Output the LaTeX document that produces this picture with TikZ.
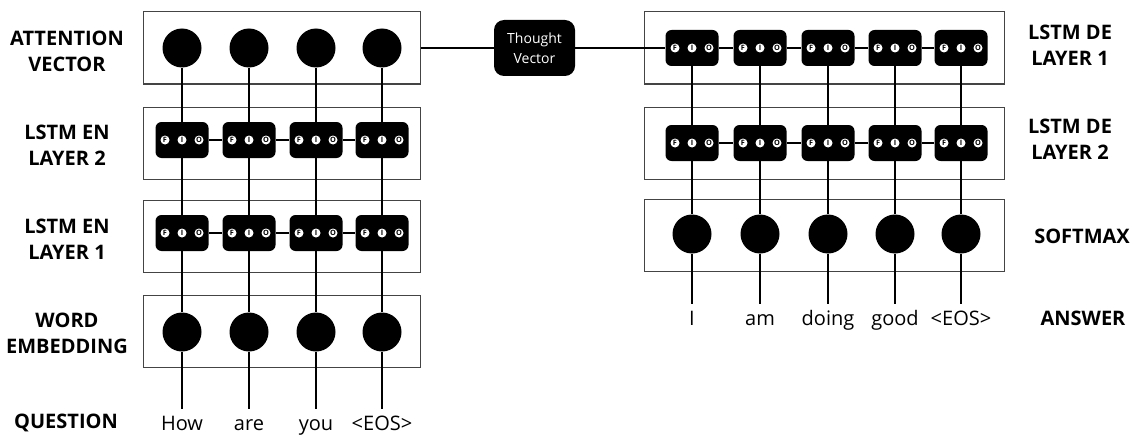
\documentclass[tikz,border=0pt]{standalone}
\usepackage{fontspec}
\setmainfont{Open Sans}
\begin{document}
\begin{tikzpicture}[x=0.75pt,y=0.75pt,yscale=-1,xscale=1,
  layerbox/.style={draw={rgb, 255:red, 68; green, 68; blue, 68 },line width=0.75pt,minimum height=54pt,inner sep=0pt},
  leftbox/.style={layerbox,minimum width=207.75pt},
  rightbox/.style={layerbox,minimum width=270pt},
  unit/.style={circle,fill=black,minimum size=29.25pt,inner sep=0pt},
  cell/.style={fill=black,rounded corners=4.5pt,minimum width=39.75pt,minimum height=27pt,inner sep=0pt},
  gate/.style={circle,fill=white,minimum size=6.75pt,inner sep=0pt,font=\fontsize{5.5}{5.5}\selectfont\bfseries},
  tag/.style={align=center,inner sep=1pt,font=\fontsize{15}{19.5}\selectfont\bfseries},
  word/.style={anchor=north,inner xsep=0pt,inner ysep=6pt,text height=10pt,text depth=3pt,font=\fontsize{15}{18}\selectfont},
  wire/.style={line width=1.5pt}]
\useasboundingbox (0,0) rectangle (1134,435);

%Shape: Rectangle (encoder side)
\node[leftbox] (attbox) at (281.5,48) {};
\node[leftbox] (en2box) at (281.5,143.5) {};
\node[leftbox] (en1box) at (281.5,236.5) {};
\node[leftbox] (embbox) at (281.5,331.5) {};
%Shape: Rectangle (decoder side)
\node[rightbox] (de1box) at (824,48) {};
\node[rightbox] (de2box) at (824,143) {};
\node[rightbox] (softbox) at (824,235.5) {};

% Text Node
\node[tag] at (67,51) {ATTENTION\\VECTOR};
\node[tag] at (67,145) {LSTM EN\\LAYER 2};
\node[tag] at (67,239) {LSTM EN\\LAYER 1};
\node[tag] at (67,333) {WORD\\EMBEDDING};
\node[tag] at (66,423) {QUESTION};
\node[tag] at (1070,45) {LSTM DE\\LAYER 1};
\node[tag] at (1070,139) {LSTM DE\\LAYER 2};
\node[tag] at (1082,236) {SOFTMAX};
\node[tag] at (1083,318) {ANSWER};

%Shape: Circle (attention)
\node[unit] (ea1) at (182,48) {};
\node[unit] (ea2) at (249,48) {};
\node[unit] (ea3) at (316,48) {};
\node[unit] (ea4) at (382,48) {};
%Shape: Rounded Rect (lstm en layer 2)
\node[cell] (eb1) at (182,140) {};
\node[cell] (eb2) at (249,140) {};
\node[cell] (eb3) at (316,140) {};
\node[cell] (eb4) at (382,140) {};
%Shape: Rounded Rect (lstm en layer 1)
\node[cell] (ec1) at (182,233) {};
\node[cell] (ec2) at (249,233) {};
\node[cell] (ec3) at (316,233) {};
\node[cell] (ec4) at (382,233) {};
%Shape: Circle (embedding)
\node[unit] (ed1) at (182,332) {};
\node[unit] (ed2) at (249,332) {};
\node[unit] (ed3) at (316,332) {};
\node[unit] (ed4) at (382,332) {};
% Text Node (question)
\node[word] (q1) at (182,409) {How};
\node[word] (q2) at (249,409) {are};
\node[word] (q3) at (316,409) {you};
\node[word] (q4) at (382,409) {<EOS>};

%Shape: Rounded Rect (lstm de layer 1)
\node[cell] (da1) at (692,48) {};
\node[cell] (da2) at (760,48) {};
\node[cell] (da3) at (828,48) {};
\node[cell] (da4) at (895,48) {};
\node[cell] (da5) at (961,48) {};
%Shape: Rounded Rect (lstm de layer 2)
\node[cell] (db1) at (692,143) {};
\node[cell] (db2) at (760,143) {};
\node[cell] (db3) at (828,143) {};
\node[cell] (db4) at (895,143) {};
\node[cell] (db5) at (961,143) {};
%Shape: Circle (softmax)
\node[unit] (dc1) at (692,234) {};
\node[unit] (dc2) at (760,234) {};
\node[unit] (dc3) at (828,234) {};
\node[unit] (dc4) at (895,234) {};
\node[unit] (dc5) at (961,234) {};
% Text Node (answer)
\node[word] (r1) at (692,304) {I};
\node[word] (r2) at (760,304) {am};
\node[word] (r3) at (828,304) {doing};
\node[word] (r4) at (895,304) {good};
\node[word] (r5) at (961,304) {<EOS>};

%Shape: Rounded Rect (thought vector)
\node[fill=black,rounded corners=7.5pt,minimum width=60.75pt,minimum height=42pt,text=white,align=center,font=\fontsize{10.5}{15}\selectfont] (tv) at (534.5,48) {Thought\\Vector};

%Straight Lines
\draw[wire] (attbox) -- (tv) -- (da1) -- (da2) -- (da3) -- (da4) -- (da5);
\draw[wire] (eb1) -- (eb2) -- (eb3) -- (eb4);
\draw[wire] (ec1) -- (ec2) -- (ec3) -- (ec4);
\draw[wire] (db1) -- (db2) -- (db3) -- (db4) -- (db5);
\foreach \i in {1,...,4}
  \draw[wire] (ea\i) -- (eb\i) -- (ec\i) -- (ed\i) -- (q\i);
\foreach \i in {1,...,5}
  \draw[wire] (da\i) -- (db\i) -- (dc\i) -- (r\i);

%Shape: Circle (gates)
\foreach \c in {eb1,eb2,eb3,eb4,ec1,ec2,ec3,ec4,da1,da2,da3,da4,da5,db1,db2,db3,db4,db5}
  \foreach \g [count=\k] in {F,I,O}
    \node[gate] at ([xshift={(\k-2)*12.75pt}]\c.center) {\g};
\end{tikzpicture}
\end{document}
